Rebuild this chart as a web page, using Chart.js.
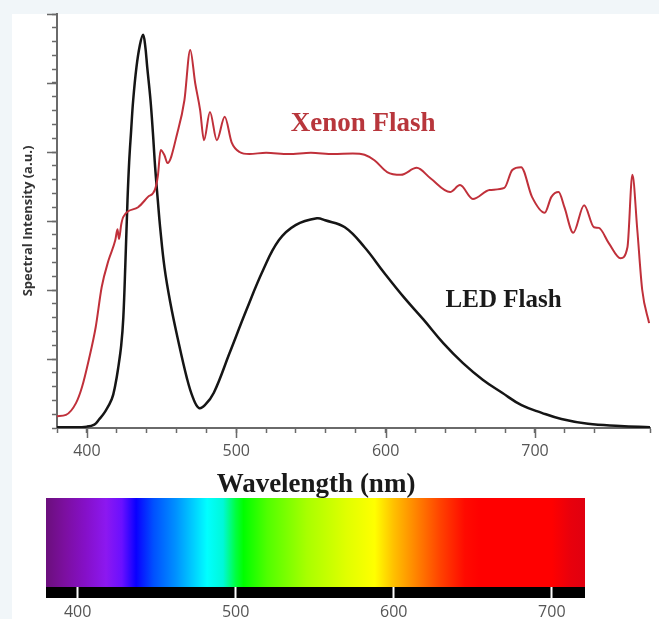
<!DOCTYPE html>
<html lang="en">
<head>
<meta charset="UTF-8">
<title>Xenon vs LED flash spectrum</title>
<script src="https://cdn.jsdelivr.net/npm/chart.js"></script>
<style>
  body {
    margin: 0;
    width: 659px;
    height: 619px;
    overflow: hidden;
    position: relative;
    background: #f1f6f9;
  }
  #paper { position: absolute; left: 12px; top: 14px; right: 0; bottom: 0; background: #fff; }
  #spectrumChart { position: absolute; left: 0; top: 0; }
  #colorChart { position: absolute; left: 0; top: 490px; }
</style>
</head>
<body>
<div id="paper"></div>
<canvas id="spectrumChart" width="659" height="500"></canvas>
<canvas id="colorChart" width="659" height="129"></canvas>

<script>
  // tick labels shown on both wavelength axes
  const wavelengthTicks = [400, 500, 600, 700];

  // LED flash: wavelength (nm) and intensity (a.u.)
  const ledNm = [380, 390, 400, 405, 408, 412, 416.7, 419, 421.1, 423, 424.4, 425.8, 427.2, 428.3, 429.6, 431, 433.2, 435.5, 437.6,
    439, 440.4, 442.6, 444.2, 445.7, 447.5, 449, 452, 456, 460.6, 467, 471, 475, 479, 485, 495.6, 506.8, 518, 528.5, 539.7,
    554, 559.5, 572.7, 585.9, 599, 612, 625.4, 638.6, 651.8, 665, 678, 691, 704.5, 717.7, 735.5, 757, 777];
  const ledValue = [0.01, 0.01, 0.02, 0.05, 0.12, 0.23, 0.42, 0.62, 0.89, 1.2, 1.6, 2.4, 3.3, 3.85, 4.3, 4.75, 5.23, 5.55, 5.7,
    5.55, 5.23, 4.75, 4.28, 3.78, 3.3, 2.92, 2.32, 1.8, 1.32, 0.72, 0.44, 0.29, 0.33, 0.51, 1.09, 1.71, 2.29, 2.72, 2.94,
    3.04, 3.01, 2.91, 2.62, 2.25, 1.9, 1.57, 1.23, 0.94, 0.7, 0.51, 0.33, 0.22, 0.13, 0.06, 0.03, 0.01];

  // Xenon flash: wavelength (nm) and intensity (a.u.)
  const xenonNm = [380, 386, 392.7, 396.7, 401.3, 405.9, 409.9, 414.5, 419, 420.5, 421.5, 423, 424.4, 434.3, 440.9, 445.5, 447.5,
    449.4, 452, 454, 460.6, 465.3, 469.2, 472.5, 475.8, 478.4, 482.4, 487, 492.3, 496.9, 502.2, 508.8, 520, 535, 550, 565, 578,
    585.9, 592.5, 601, 610.3, 620.8, 630, 643.2, 649.8, 658.4, 669.6, 679.5, 684.8, 690.7, 698, 706.5, 711, 715.8, 719.7,
    725.6, 732.9, 739.5, 742.8, 749.4, 757.3, 761.9, 765.2, 768.5, 771.8, 776.4];
  const xenonValue = [0.17, 0.19, 0.36, 0.59, 0.99, 1.46, 2.04, 2.43, 2.72, 2.88, 2.74, 2.95, 3.06, 3.2, 3.35, 3.45, 3.65,
    4.03, 3.95, 3.84, 4.28, 4.75, 5.48, 5.0, 4.61, 4.17, 4.58, 4.17, 4.51, 4.14, 4.0, 3.97, 3.99, 3.97, 3.99, 3.97, 3.98,
    3.96, 3.88, 3.71, 3.67, 3.77, 3.62, 3.42, 3.52, 3.32, 3.45, 3.48, 3.74, 3.78, 3.35, 3.12, 3.35, 3.42, 3.2,
    2.83, 3.23, 2.91, 2.9, 2.68, 2.46, 2.62, 3.67, 2.87, 2.0, 1.52];

  const seriesNames = ['Xenon Flash', 'LED Flash'];

  // visible spectrum strip: wavelength stops and their colours
  const spectrumNm = [380, 392, 405, 418, 428, 437, 448, 462, 475, 482, 492, 500, 505, 520, 545, 570, 588, 600, 615, 630, 645, 655, 700, 712, 721];
  const spectrumColor = ['#6b0f7c', '#7c0fa0', '#8510c8', '#8c18f0', '#6a10ff', '#0a00ff', '#0050ff', '#0090ff', '#00d8ff',
    '#00ffff', '#00f8d8', '#00ff40', '#00ff00', '#50ff00', '#a8ff00', '#e0ff00', '#ffff00', '#ffc000', '#ff8000', '#ff4000',
    '#ff0a00', '#ff0000', '#ff0000', '#e8000c', '#e00010'];

  const toPoints = (xs, ys) => xs.map((x, i) => ({ x, y: ys[i] }));
  const tickFont = { family: 'Open Sans', size: 16 };

  // longer marks at the major ticks
  const majorTicks = {
    id: 'majorTicks',
    afterDraw(chart) {
      const { ctx, chartArea, scales: { x, y } } = chart;
      ctx.save();
      ctx.strokeStyle = '#6a6a6a';
      ctx.lineWidth = 1.5;
      ctx.beginPath();
      x.ticks.forEach(t => {
        if (wavelengthTicks.includes(t.value)) {
          const px = Math.round(x.getPixelForValue(t.value)) + 0.5;
          ctx.moveTo(px, chartArea.bottom);
          ctx.lineTo(px, chartArea.bottom + 10);
        }
      });
      y.ticks.forEach(t => {
        if (t.value > 0 && Math.abs(t.value - Math.round(t.value)) < 1e-6) {
          const py = Math.round(y.getPixelForValue(t.value)) + 0.5;
          ctx.moveTo(chartArea.left - 10, py);
          ctx.lineTo(chartArea.left, py);
        }
      });
      ctx.stroke();
      ctx.restore();
    }
  };

  // curve names and the axis title
  const curveLabels = {
    id: 'curveLabels',
    afterDraw(chart) {
      const { ctx, chartArea, scales: { x, y } } = chart;
      ctx.save();
      ctx.textAlign = 'center';
      ctx.textBaseline = 'middle';
      ctx.font = 'bold 27px "Liberation Serif"';
      ctx.fillStyle = '#b8363c';
      ctx.fillText(seriesNames[0], x.getPixelForValue(585), y.getPixelForValue(4.4));
      ctx.font = 'bold 25px "Liberation Serif"';
      ctx.fillStyle = '#1a1a1a';
      ctx.fillText(seriesNames[1], x.getPixelForValue(679), y.getPixelForValue(1.84));
      ctx.font = 'bold 27px "Liberation Serif"';
      ctx.fillText('Wavelength (nm)', 316, chartArea.bottom + 57);
      ctx.restore();
    }
  };

  new Chart(document.getElementById('spectrumChart'), {
    type: 'line',
    data: {
      datasets: [
        {
          label: seriesNames[0],
          data: toPoints(xenonNm, xenonValue),
          borderColor: '#c0303a',
          borderWidth: 2,
          pointRadius: 0,
          cubicInterpolationMode: 'monotone',
          fill: false,
        },
        {
          label: seriesNames[1],
          data: toPoints(ledNm, ledValue),
          borderColor: '#151515',
          borderWidth: 2.5,
          pointRadius: 0,
          tension: 0.4,
          fill: false,
        },
      ],
    },
    options: {
      responsive: false,
      animation: false,
      layout: { padding: { top: 14, right: 0, bottom: 0, left: 0 } },
      plugins: { legend: { display: false }, tooltip: { enabled: false } },
      scales: {
        x: {
          type: 'linear',
          min: 380,
          max: 777,
          afterFit: s => { s.height = 72; },
          ticks: {
            stepSize: 20,
            autoSkip: false,
            maxRotation: 0,
            color: '#555',
            font: tickFont,
            padding: 9,
            callback: v => wavelengthTicks.includes(v) ? v : '',
          },
          grid: { drawOnChartArea: false, tickLength: 5, tickColor: '#6a6a6a', tickWidth: 1.5 },
          border: { color: '#6a6a6a', width: 2 },
        },
        y: {
          min: 0,
          max: 6,
          afterFit: s => { s.width = 57; },
          ticks: { stepSize: 0.2, display: false },
          grid: { drawOnChartArea: false, tickLength: 5, tickColor: '#6a6a6a', tickWidth: 1.5 },
          border: { color: '#6a6a6a', width: 2 },
          title: {
            display: true,
            text: 'Spectral Intensity (a.u.)',
            color: '#333',
            font: { family: 'Open Sans', size: 13, weight: 'bold' },
            padding: { top: 20, bottom: 0 },
          },
        },
      },
    },
    plugins: [majorTicks, curveLabels],
  });

  // black band under the colour strip
  const scaleBand = {
    id: 'scaleBand',
    beforeDraw(chart) {
      const { ctx, chartArea } = chart;
      ctx.save();
      ctx.fillStyle = '#000';
      ctx.fillRect(chartArea.left, chartArea.bottom, chartArea.right - chartArea.left, 11);
      ctx.restore();
    }
  };

  new Chart(document.getElementById('colorChart'), {
    type: 'bar',
    data: {
      labels: ['visible'],
      datasets: [{
        data: [[spectrumNm[0], spectrumNm[spectrumNm.length - 1]]],
        backgroundColor: c => {
          const { chart } = c;
          const x = chart.scales.x;
          if (!chart.chartArea || !x) return '#f00';
          const x0 = x.getPixelForValue(spectrumNm[0]);
          const x1 = x.getPixelForValue(spectrumNm[spectrumNm.length - 1]);
          const g = chart.ctx.createLinearGradient(x0, 0, x1, 0);
          spectrumNm.forEach((nm, i) => g.addColorStop((x.getPixelForValue(nm) - x0) / (x1 - x0), spectrumColor[i]));
          return g;
        },
        borderWidth: 0,
        barPercentage: 1,
        categoryPercentage: 1,
      }],
    },
    options: {
      indexAxis: 'y',
      responsive: false,
      animation: false,
      layout: { padding: { top: 8, right: 74, bottom: 0, left: 46 } },
      plugins: { legend: { display: false }, tooltip: { enabled: false } },
      scales: {
        x: {
          type: 'linear',
          min: 380,
          max: 721,
          afterBuildTicks: s => { s.ticks = wavelengthTicks.map(v => ({ value: v })); },
          afterFit: s => { s.height = 32; },
          ticks: { color: '#555', font: tickFont, padding: 5, maxRotation: 0 },
          grid: { drawOnChartArea: false, tickLength: 11, tickColor: '#fff', tickWidth: 2 },
          border: { display: false },
        },
        y: { display: false },
      },
    },
    plugins: [scaleBand],
  });
</script>
</body>
</html>
